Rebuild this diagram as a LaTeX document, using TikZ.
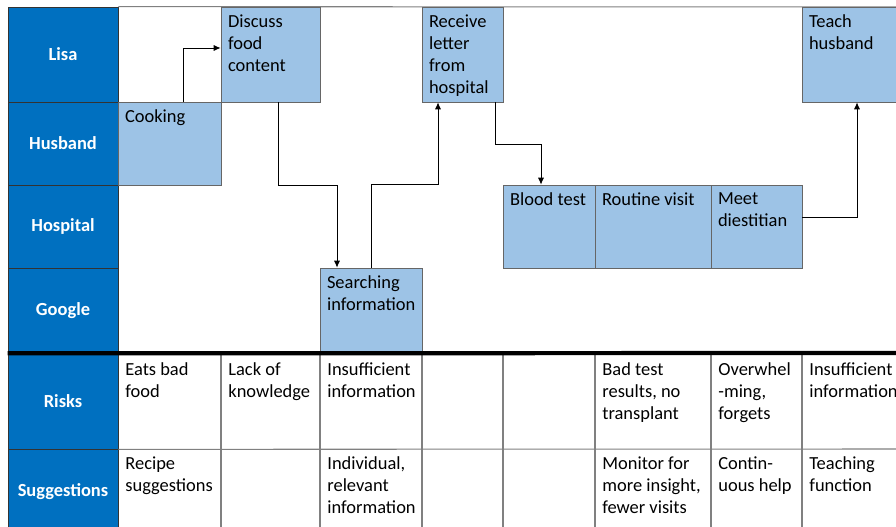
\documentclass[tikz,border=0pt]{standalone}
\usepackage{fontspec}
\setmainfont{Carlito}
\usetikzlibrary{positioning,calc,fit,arrows.meta}
\definecolor{laneblue}{HTML}{0070C0}
\definecolor{taskblue}{HTML}{9DC3E6}
\definecolor{gridgray}{HTML}{808080}

\begin{document}
\begin{tikzpicture}[x=0.02cm, y=-0.02cm,
    lane/.style={draw=black!80, fill=laneblue, text=white, inner sep=0pt,
        minimum width=2.2cm, font=\fontsize{10.5}{12.5}\selectfont\bfseries},
    task/.style={draw=black!60, fill=taskblue, inner sep=0pt},
    txt/.style={anchor=north west, align=left, inner xsep=4pt, inner ysep=4.4pt,
        font=\fontsize{10.5}{12.5}\selectfont},
    flow/.style={-{Latex[length=4pt,width=3.5pt]}, black, line width=0.5pt},
    rule/.style={draw=gridgray, line width=0.6pt}]
    \useasboundingbox (0,0) rectangle (896,527);
    \clip (0,0) rectangle (896,527);

    % swim lanes
    \node[lane, minimum height=1.9cm] (lisa) at (63,54.5) {Lisa};
    \node[lane, minimum height=1.66cm] (husband) at (63,143.5) {Husband};
    \node[lane, minimum height=1.66cm] (hospital) at (63,226.5) {Hospital};
    \node[lane, minimum height=1.7cm] (google) at (63,310.5) {Google};
    \node[lane, minimum height=1.92cm] (risks) at (63,401) {Risks};
    \node[lane, minimum height=1.72cm] (sugg) at (63,492) {Suggestions};
    \draw[rule] (lisa.north east) -- (896,7);

    % steps
    \node[task, fit={(118,102) (221,185)}] (cook) {};
    \node[txt] (cookt) at (cook.north west) {Cooking};
    \node[task, fit={(221,7) (320,102)}] (disc) {};
    \node[txt] (disct) at (disc.north west) {Discuss\\food\\content};
    \node[task, fit={(320,268) (422,353)}] (search) {};
    \node[txt] (searcht) at (search.north west) {Searching\\information};
    \node[task, fit={(422,7) (503,102)}] (recv) {};
    \node[txt] (recvt) at (recv.north west) {Receive\\letter\\from\\hospital};
    \node[task, fit={(503,185) (595,268)}] (blood) {};
    \node[txt] (bloodt) at (blood.north west) {Blood test};
    \node[task, fit={(595,185) (711,268)}] (visit) {};
    \node[txt] (visitt) at (visit.north west) {Routine visit};
    \node[task, fit={(711,185) (802,268)}] (meet) {};
    \node[txt] (meett) at (meet.north west) {Meet\\diestitian};
    \node[task, fit={(802,7) (912,102)}] (teach) {};
    \node[txt] (teacht) at (teach.north west) {Teach\\husband};

    % flow
    \draw[flow] ($(cook.north)+(13.5,0)$) |- ($(disc.west)+(0,-6.5)$);
    \draw[flow] ($(disc.south)+(7.5,0)$) -- ++(0,83) -| ($(search.north)+(-34,0)$);
    \draw[flow] (search.north) -- ++(0,-83) -| ($(recv.south)+(-24.5,0)$);
    \draw[flow] ($(recv.south)+(32.5,0)$) -- ++(0,42) -| ($(blood.north)+(-8,0)$);
    \draw[flow] ($(meet.east)+(0,-9.5)$) -| (teach.south);

    % risks and suggestions table
    \foreach \x in {221,320,422,503,595,711,802}
        \draw[rule] (\x,353) -- (\x,527);
    \draw[rule] (risks.south east) -- (896,449);
    \draw[line width=2.4pt] (google.south west) -- (896,353);

    \node[txt] (r1) at (118,355) {Eats bad\\food};
    \node[txt] (r2) at (221,355) {Lack of\\knowledge};
    \node[txt] (r3) at (320,355) {Insufficient\\information};
    \node[txt] (r6) at (595,355) {Bad test\\results, no\\transplant};
    \node[txt] (r7) at (711,355) {Overwhel\\-ming,\\forgets};
    \node[txt] (r8) at (802,355) {Insufficient\\information};
    \node[txt] (s1) at (118,449) {Recipe\\suggestions};
    \node[txt] (s3) at (320,449) {Individual,\\relevant\\information};
    \node[txt] (s6) at (595,449) {Monitor for\\more insight,\\fewer visits};
    \node[txt] (s7) at (711,449) {Contin-\\uous help};
    \node[txt] (s8) at (802,449) {Teaching\\function};
\end{tikzpicture}
\end{document}
